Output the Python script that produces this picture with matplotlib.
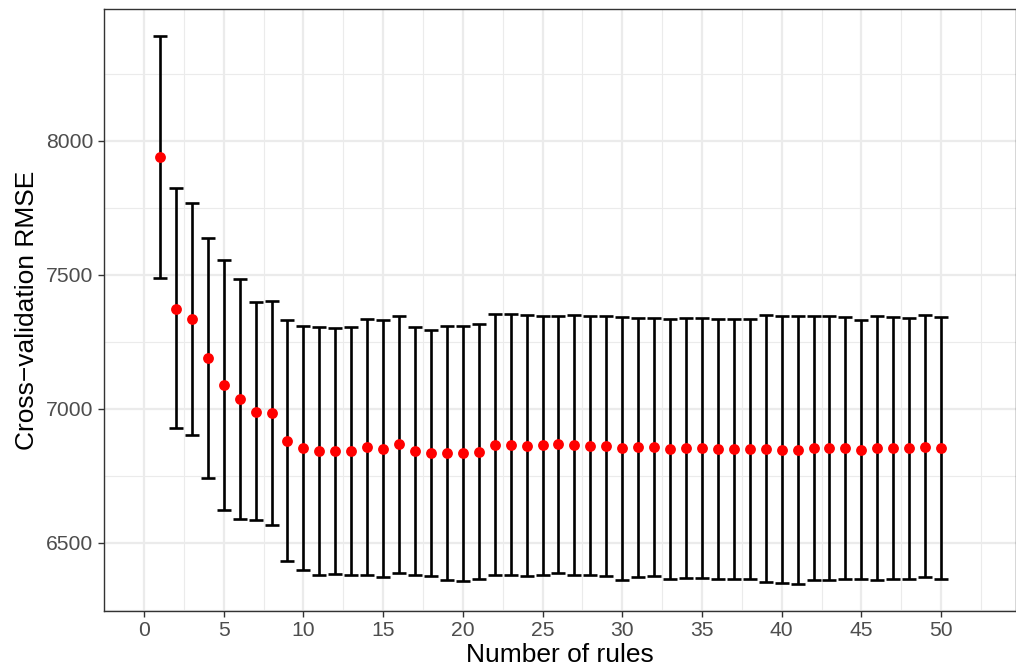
import matplotlib
matplotlib.use("Agg")
import matplotlib.pyplot as plt
from matplotlib.ticker import MultipleLocator

plt.rcParams['font.family'] = ['Liberation Sans', 'DejaVu Sans']

rules = list(range(1, 51))
rmse = [7940, 7373, 7333, 7189, 7087, 7036, 6988, 6983, 6881, 6853,
        6842, 6842, 6841, 6857, 6851, 6867, 6841, 6835, 6835, 6833,
        6838, 6866, 6866, 6862, 6863, 6867, 6866, 6862, 6861, 6852,
        6856, 6857, 6850, 6854, 6852, 6848, 6848, 6848, 6851, 6846,
        6844, 6852, 6852, 6852, 6847, 6852, 6852, 6852, 6856, 6852]
upper = [8392, 7823, 7769, 7637, 7556, 7485, 7398, 7400, 7332, 7310,
         7305, 7302, 7305, 7336, 7331, 7347, 7303, 7295, 7308, 7307,
         7315, 7353, 7352, 7348, 7345, 7347, 7351, 7347, 7345, 7342,
         7340, 7340, 7336, 7340, 7338, 7335, 7335, 7335, 7350, 7345,
         7346, 7347, 7347, 7342, 7332, 7346, 7341, 7340, 7348, 7343]
lower = [7489, 6928, 6900, 6743, 6623, 6590, 6583, 6566, 6433, 6398,
         6379, 6382, 6378, 6378, 6371, 6385, 6378, 6374, 6361, 6358,
         6365, 6379, 6379, 6377, 6381, 6385, 6381, 6378, 6376, 6361,
         6373, 6374, 6363, 6369, 6369, 6363, 6363, 6363, 6354, 6349,
         6347, 6360, 6360, 6365, 6365, 6361, 6366, 6366, 6373, 6365]

fig = plt.figure(figsize=(10.16, 6.71), dpi=100)
ax = fig.add_axes([103.7/1016, 1 - 611/671, 1 - 103.7/1016, (611 - 9)/671])

yerr_low = [m - l for m, l in zip(rmse, lower)]
yerr_up = [u - m for m, u in zip(rmse, upper)]
ax.errorbar(rules, rmse, yerr=[yerr_low, yerr_up], fmt='none', ecolor='black',
            elinewidth=1.9, capsize=4.9, capthick=1.9, zorder=3)
ax.plot(rules, rmse, 'o', color='red', markersize=7.8, markeredgewidth=0, zorder=4)

ax.set_xlim(-2.53, 54.7)
ax.set_ylim(6245, 8491)
ax.xaxis.set_major_locator(MultipleLocator(5))
ax.xaxis.set_minor_locator(MultipleLocator(2.5))
ax.yaxis.set_major_locator(MultipleLocator(500))
ax.yaxis.set_minor_locator(MultipleLocator(250))

ax.grid(which='major', color='#EBEBEB', linewidth=1.6, zorder=0)
ax.grid(which='minor', color='#EBEBEB', linewidth=0.8, zorder=0)
ax.set_axisbelow(True)

for s in ax.spines.values():
    s.set_color('#333333')
    s.set_linewidth(1.0)

ax.tick_params(which='major', length=4.3, width=1.0, color='#333333',
               labelcolor='#4D4D4D', labelsize=15.2, pad=3)
ax.tick_params(which='minor', length=0)

ax.set_xlabel('Number of rules', fontsize=19, color='black', labelpad=2)
ax.set_ylabel('Cross\u2212validation RMSE', fontsize=19, color='black', labelpad=5)

fig.savefig('out.png', dpi=100)
